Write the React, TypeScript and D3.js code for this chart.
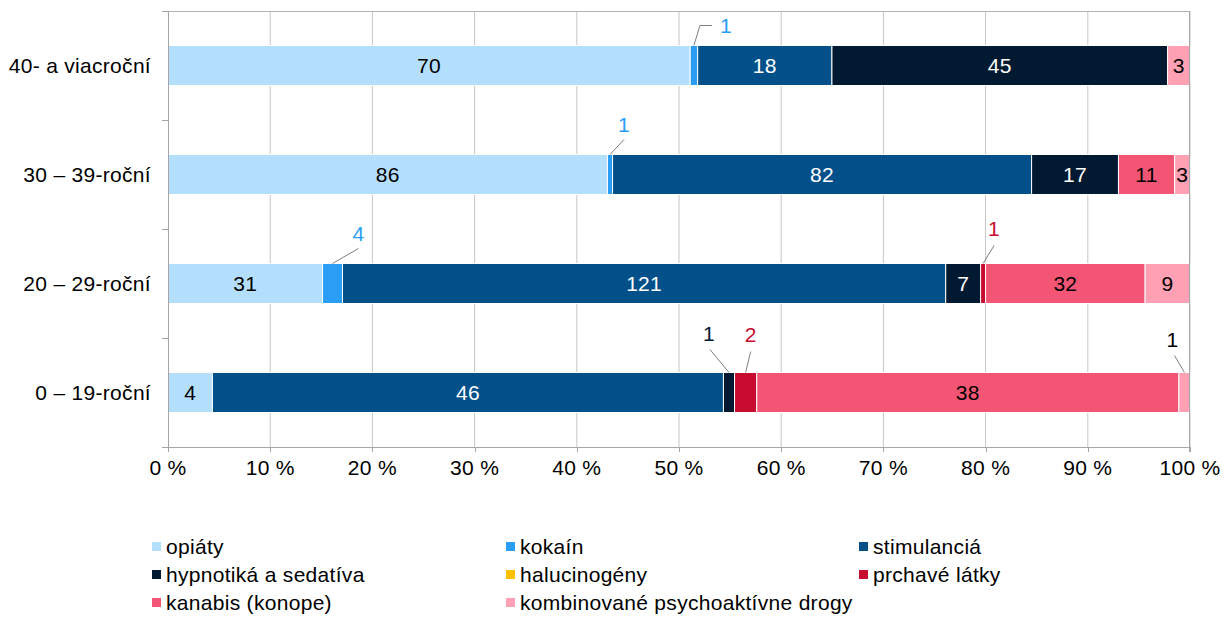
import { useEffect, useRef } from "react";
import * as d3 from "d3";

// age groups, top to bottom
const CATEGORIES = ["40- a viacroční", "30 – 39-roční", "20 – 29-roční", "0 – 19-roční"];

const SERIES = [
  "opiáty",
  "kokaín",
  "stimulanciá",
  "hypnotiká a sedatíva",
  "halucinogény",
  "prchavé látky",
  "kanabis (konope)",
  "kombinované psychoaktívne drogy",
];

// counts per age group (same order as CATEGORIES)
const OPIATY = [70, 86, 31, 4];
const KOKAIN = [1, 1, 4, 0];
const STIMULANCIA = [18, 82, 121, 46];
const HYPNOTIKA = [45, 17, 7, 1];
const HALUCINOGENY = [0, 0, 0, 0];
const PRCHAVE = [0, 0, 1, 2];
const KANABIS = [0, 11, 32, 38];
const KOMBINOVANE = [3, 3, 9, 1];

const VALUES = [OPIATY, KOKAIN, STIMULANCIA, HYPNOTIKA, HALUCINOGENY, PRCHAVE, KANABIS, KOMBINOVANE];

const X_TICKS = [0, 0.1, 0.2, 0.3, 0.4, 0.5, 0.6, 0.7, 0.8, 0.9, 1];

const COLORS = ["#b4dffc", "#2a9df4", "#02508a", "#021a31", "#ffc000", "#c80c30", "#f35674", "#ffa0b4"];
const LABEL_COLORS = ["#000", "#000", "#fff", "#fff", "#000", "#fff", "#000", "#000"];

// small segments labelled outside with a leader line (offsets from segment top-centre)
const CALLOUTS = [
  { cat: 0, s: 1, pts: [[0, 0], [6, -20], [18, -20]], tx: 32, ty: -12, color: "#2a9df4" },
  { cat: 1, s: 1, pts: [[0, 0], [14, -15]], tx: 14, ty: -22, color: "#2a9df4" },
  { cat: 2, s: 1, pts: [[0, 0], [26, -15]], tx: 26, ty: -22, color: "#2a9df4" },
  { cat: 2, s: 5, pts: [[0, 0], [11, -18]], tx: 11, ty: -27, color: "#c80c30" },
  { cat: 3, s: 3, pts: [[0, 0], [-19, -23]], tx: -20, ty: -31, color: "#021a31" },
  { cat: 3, s: 5, pts: [[0, 0], [5, -21]], tx: 5, ty: -30, color: "#c80c30" },
  { cat: 3, s: 7, pts: [[0, 0], [-10, -17]], tx: -12, ty: -25, color: "#000" },
];

const FONT = "'Liberation Sans', Arial, sans-serif";
const FS = 21;

export default function App() {
  const svgRef = useRef<SVGSVGElement>(null);

  useEffect(() => {
    const width = 1229;
    const height = 626;
    const left = 168, right = 1190, top = 11, bottom = 447;

    const svg = d3.select(svgRef.current);
    svg.selectAll("*").remove();
    svg.attr("width", width).attr("height", height);

    const x = d3.scaleLinear().domain([0, 1]).range([left, right]);
    const y = d3.scaleBand<string>()
      .domain(CATEGORIES)
      .range([top, bottom])
      .paddingInner(0.633)
      .paddingOuter(0.3165);
    const step = y.step();

    // table for the stack
    const table = CATEGORIES.map((c, i) => {
      const row: any = { cat: c };
      SERIES.forEach((s, j) => (row[s] = VALUES[j][i]));
      return row;
    });
    const stacked = d3.stack<any>().keys(SERIES).offset(d3.stackOffsetExpand)(table);

    // ----- grid -----
    svg.append("g")
      .selectAll("line")
      .data(X_TICKS.slice(1))
      .join("line")
      .attr("x1", (d) => x(d)).attr("x2", (d) => x(d))
      .attr("y1", top).attr("y2", bottom)
      .attr("stroke", "#c6c6c6").attr("stroke-width", 1);

    // top line
    svg.append("line")
      .attr("x1", left).attr("x2", right).attr("y1", top + 0.5).attr("y2", top + 0.5)
      .attr("stroke", "#b3b3b3");

    // ----- bars -----
    const barsG = svg.append("g");
    stacked.forEach((layer, j) => {
      barsG.append("g")
        .selectAll("rect")
        .data(layer.filter((d) => d[1] - d[0] > 0))
        .join("rect")
        .attr("x", (d) => x(d[0]))
        .attr("y", (d) => y(d.data.cat)!)
        .attr("width", (d) => x(d[1]) - x(d[0]))
        .attr("height", y.bandwidth())
        .attr("fill", COLORS[j])
        .attr("stroke", "#fff")
        .attr("stroke-width", 1);
    });

    const txt = (sel: any) =>
      sel.attr("font-family", FONT).attr("font-size", FS).attr("letter-spacing", 0.3);

    // ----- in-bar labels -----
    const isCallout = (ci: number, s: number) => CALLOUTS.some((c) => c.cat === ci && c.s === s);
    stacked.forEach((layer, j) => {
      layer.forEach((d, ci) => {
        const v = VALUES[j][ci];
        if (!v || isCallout(ci, j)) return;
        svg.append("text")
          .attr("x", (x(d[0]) + x(d[1])) / 2)
          .attr("y", y(d.data.cat)! + y.bandwidth() / 2 + 7)
          .attr("text-anchor", "middle")
          .call(txt)
          .attr("fill", LABEL_COLORS[j])
          .text(v);
      });
    });

    // ----- callouts -----
    CALLOUTS.forEach((c) => {
      const d = stacked[c.s][c.cat];
      const cx = (x(d[0]) + x(d[1])) / 2;
      const cy = y(CATEGORIES[c.cat])!;
      svg.append("path")
        .attr("d", d3.line()(c.pts.map(([dx, dy]) => [cx + dx, cy + dy] as [number, number])))
        .attr("fill", "none").attr("stroke", "#7f7f7f").attr("stroke-width", 1);
      svg.append("text")
        .attr("x", cx + c.tx).attr("y", cy + c.ty)
        .attr("text-anchor", "middle")
        .call(txt)
        .attr("fill", c.color)
        .text(VALUES[c.s][c.cat]);
    });

    // ----- axes -----
    const axisColor = "#a6a6a6";
    svg.append("line")
      .attr("x1", left + 0.5).attr("x2", left + 0.5).attr("y1", top).attr("y2", bottom + 5)
      .attr("stroke", axisColor);
    svg.append("line")
      .attr("x1", left - 6).attr("x2", right).attr("y1", bottom + 0.5).attr("y2", bottom + 0.5)
      .attr("stroke", axisColor);
    svg.append("line")
      .attr("x1", right - 0.5).attr("x2", right - 0.5).attr("y1", top).attr("y2", bottom + 5)
      .attr("stroke", axisColor);

    // y ticks between bands
    const yTicks = d3.range(CATEGORIES.length + 1).map((i) => top + i * step);
    svg.append("g")
      .selectAll("line")
      .data(yTicks)
      .join("line")
      .attr("x1", left - 6).attr("x2", left)
      .attr("y1", (d) => Math.round(d) + 0.5).attr("y2", (d) => Math.round(d) + 0.5)
      .attr("stroke", axisColor);

    // x ticks + labels
    svg.append("g")
      .selectAll("line")
      .data(X_TICKS)
      .join("line")
      .attr("x1", (d) => Math.round(x(d)) + 0.5).attr("x2", (d) => Math.round(x(d)) + 0.5)
      .attr("y1", bottom).attr("y2", bottom + 5)
      .attr("stroke", axisColor);
    svg.append("g")
      .selectAll("text")
      .data(X_TICKS)
      .join("text")
      .attr("x", (d) => x(d))
      .attr("y", bottom + 28)
      .attr("text-anchor", "middle")
      .call(txt)
      .attr("fill", "#000")
      .text((d) => `${Math.round(d * 100)} %`);

    // category labels
    svg.append("g")
      .selectAll("text")
      .data(CATEGORIES)
      .join("text")
      .attr("x", 151)
      .attr("y", (d) => y(d)! + y.bandwidth() / 2 + 7)
      .attr("text-anchor", "end")
      .call(txt)
      .attr("fill", "#000")
      .text((d) => d);

    // ----- legend: 3 columns -----
    const colX = [152, 506, 859];
    const rowY = [547, 575, 603];
    SERIES.forEach((s, i) => {
      const gx = colX[i % 3];
      const gy = rowY[Math.floor(i / 3)];
      svg.append("rect")
        .attr("x", gx).attr("y", gy - 5).attr("width", 9).attr("height", 9)
        .attr("fill", COLORS[i]);
      svg.append("text")
        .attr("x", gx + 14).attr("y", gy + 7)
        .call(txt)
        .attr("fill", "#000")
        .text(s);
    });
  }, []);

  return (
    <div style={{ width: 1229, height: 626, margin: -8 }}>
      <svg ref={svgRef} style={{ display: "block" }}></svg>
    </div>
  );
}
